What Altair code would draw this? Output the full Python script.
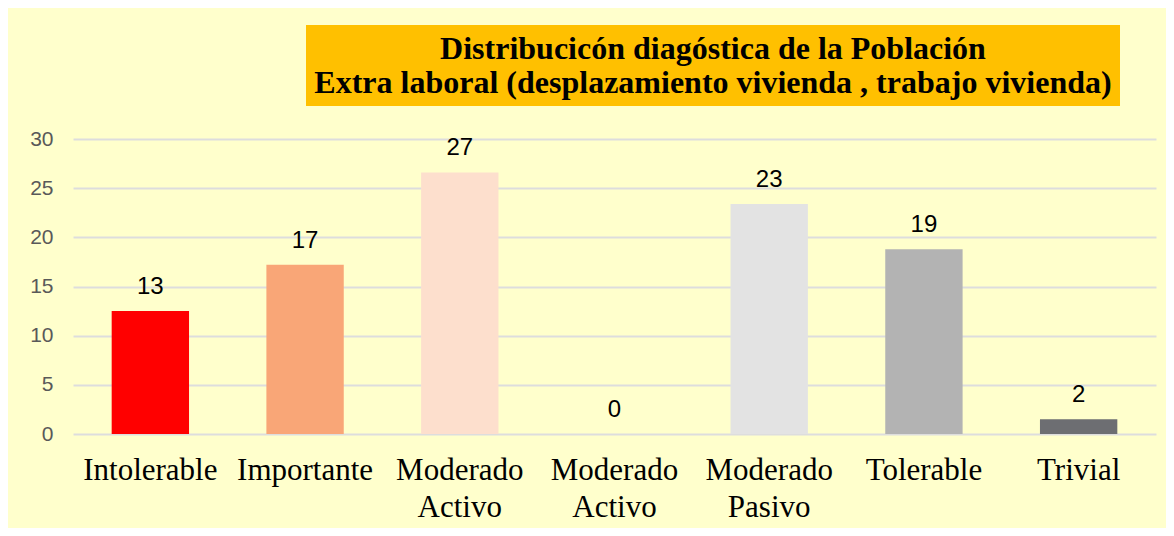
import json
import altair as alt
import pandas as pd

categories = ["Intolerable", "Importante", "Moderado Activo", "Moderado Activo",
              "Moderado Pasivo", "Tolerable", "Trivial"]
values = [12.5, 17.2, 26.6, 0.0, 23.4, 18.8, 1.5]
value_labels = ["13", "17", "27", "0", "23", "19", "2"]
bar_colors = ["#FF0000", "#F9A677", "#FDDFCD", "#E3E3E3", "#E3E3E3", "#B3B3B3", "#6D6E72"]
y_ticks = [0, 5, 10, 15, 20, 25, 30]
title_lines = ["Distribucicón diagóstica de la Población",
               "Extra laboral (desplazamiento vivienda , trabajo vivienda)"]

df = pd.DataFrame({
    "idx": list(range(len(categories))),
    "categoria": categories,
    "valor": values,
    "etiqueta": value_labels,
})

label_lines = [c.split(" ") for c in categories]
label_expr = json.dumps(label_lines) + "[datum.value]"

x_enc = alt.X(
    "idx:O",
    title=None,
    scale=alt.Scale(paddingInner=0.5, paddingOuter=0.25),
    axis=alt.Axis(labelExpr=label_expr, labelAngle=0, labelFont="Liberation Serif",
                  labelFontSize=31, labelColor="#000000", labelLineHeight=37,
                  labelPadding=21, ticks=False, domain=False, grid=False,
                  labelBaseline="top"),
)
y_enc = alt.Y(
    "valor:Q",
    title=None,
    scale=alt.Scale(domain=[0, 30], nice=False),
    axis=alt.Axis(values=y_ticks, labelFont="Liberation Sans", labelFontSize=21,
                  labelColor="#595959", labelPadding=20, ticks=False, domain=False,
                  grid=True, gridColor="#DDDDDD", gridWidth=2),
)

bars = alt.Chart(df).mark_bar().encode(
    x=x_enc,
    y=y_enc,
    color=alt.Color("idx:O", scale=alt.Scale(range=bar_colors), legend=None),
)

texts = alt.Chart(df).mark_text(
    baseline="alphabetic", dy=-17, font="Liberation Sans", fontSize=24, color="#000000"
).encode(
    x=alt.X("idx:O"),
    y=alt.Y("valor:Q"),
    text="etiqueta:N",
)

title_box = alt.Chart(alt.Data(values=[{}])).mark_rect(color="#FFC000").encode(
    x=alt.value(233), x2=alt.value(1047), y=alt.value(-114), y2=alt.value(-33)
)

title_text = alt.Chart(alt.Data(values=[{}])).mark_text(
    font="Liberation Serif", fontSize=32, fontWeight="bold", color="#000000",
    align="center", baseline="alphabetic", lineHeight=34,
).encode(
    x=alt.value(640), y=alt.value(-80), text=alt.value(title_lines)
)

chart = alt.layer(title_box, title_text, bars, texts).properties(
    width=1083,
    height=295,
    background="#FFFFCC",
    padding={"left": 65, "top": 131, "right": 10, "bottom": 94},
    autosize=alt.AutoSizeParams(type="none"),
).configure_view(stroke=None)

chart.save("out.html", embed_options={"renderer": "svg", "actions": False})
